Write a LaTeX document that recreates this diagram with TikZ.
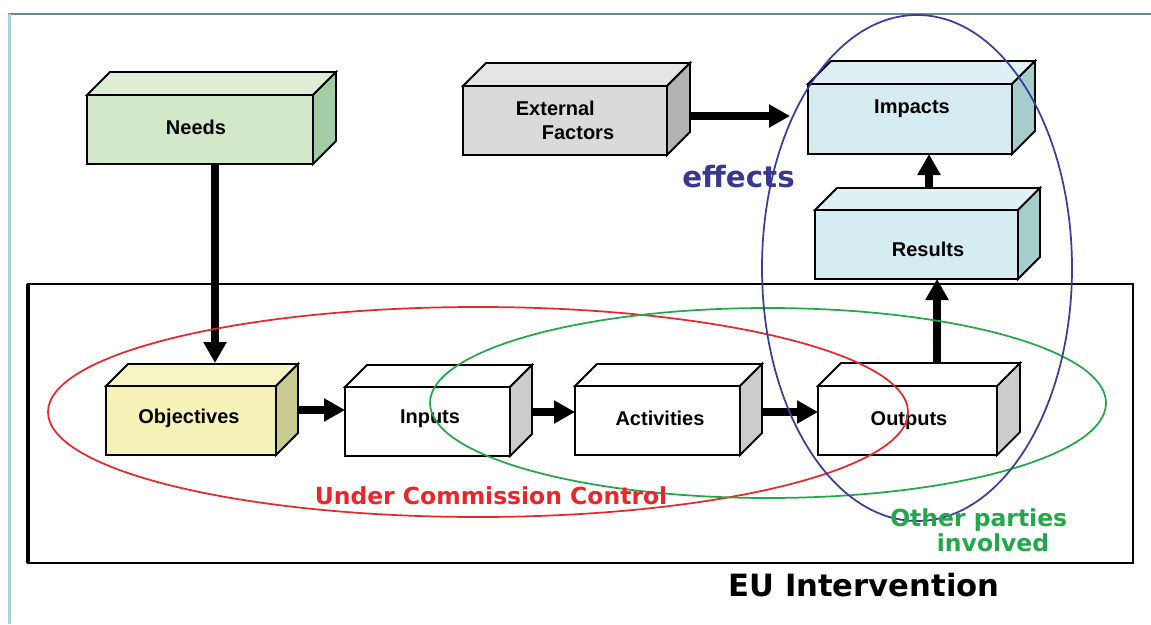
\documentclass[tikz,border=0pt]{standalone}
\usepackage{fontspec}
\setmainfont{Liberation Sans}
\newfontfamily\vfont{DejaVu Sans}
\usetikzlibrary{arrows.meta,calc}
\definecolor{needsF}{HTML}{D3E8C8}
\definecolor{needsT}{HTML}{DEEED6}
\definecolor{needsS}{HTML}{A3CCA5}
\definecolor{extF}{HTML}{DADADA}
\definecolor{extT}{HTML}{E6E6E6}
\definecolor{extS}{HTML}{B3B3B3}
\definecolor{impF}{HTML}{D4ECF2}
\definecolor{impT}{HTML}{DDF1F6}
\definecolor{impS}{HTML}{A4CDCC}
\definecolor{objF}{HTML}{F7F3B8}
\definecolor{objT}{HTML}{F8F5C4}
\definecolor{objS}{HTML}{CACB91}
\definecolor{whS}{HTML}{CCCCCC}
\definecolor{redE}{HTML}{E8262B}
\definecolor{greenE}{HTML}{22A84B}
\definecolor{blueE}{HTML}{3B3B99}
\definecolor{blueT}{HTML}{383893}
\definecolor{frameTop}{HTML}{6D8B8B}
\definecolor{frameLeft}{HTML}{A8D3D8}
\newcommand\faces[4]{%
  \draw[edge, fill=#3] (#1.north west) -- ++(#2,-#2) -- ($(#1.north east)+(#2,-#2)$) -- (#1.north east) -- cycle;
  \draw[edge, fill=#4] (#1.north east) -- ++(#2,-#2) -- ($(#1.south east)+(#2,-#2)$) -- (#1.south east) -- cycle;}
\begin{document}
\begin{tikzpicture}[x=0.75pt,y=-0.75pt,
  edge/.style={draw=black, line width=1.35pt, line join=miter},
  face/.style 2 args={edge, outer sep=0pt, inner sep=0pt, minimum width=#1*0.75pt, minimum height=#2*0.75pt},
  lbl/.style={font=\bfseries\fontsize{15}{17.5}\selectfont, inner sep=0pt, align=left},
  arr/.style={line width=6pt, -{Triangle[length=15.75pt, width=16.5pt]}},
  big/.style={font=\vfont\bfseries\fontsize{17.6}{19}\selectfont, inner sep=0pt, align=left}]
\useasboundingbox (0,0) rectangle (1151,624);
% outer frame lines
\draw[frameTop, line width=2.2pt] (8,14) -- (1151,14);
\draw[frameLeft, line width=2.2pt] (9.5,14) -- (9.5,624);
% EU intervention frame
\node[draw=black, line width=2.2pt, outer sep=0pt, inner sep=0pt, minimum width=1105*0.75pt, minimum height=279*0.75pt] (frame) at (580.5,423.5) {};
\draw[black, line width=3.2pt] (frame.north west) -- (frame.south west);
% boxes (front faces)
\node[face={226}{69}, fill=needsF] (needs) at (200,129.5) {};
\node[face={204}{69}, fill=extF] (ext) at (565,120.5) {};
\node[face={204}{70}, fill=impF] (impacts) at (910,119) {};
\node[face={203}{69}, fill=impF] (results) at (916.5,244.5) {};
\node[face={170}{69}, fill=objF] (obj) at (191,420.5) {};
\node[face={165}{69}, fill=white] (inputs) at (427.5,421.5) {};
\node[face={165}{69}, fill=white] (act) at (657.5,420.5) {};
\node[face={179}{69}, fill=white] (out) at (907.5,420.5) {};
\faces{needs}{23}{needsT}{needsS}
\faces{ext}{23}{extT}{extS}
\faces{impacts}{23}{impT}{impS}
\faces{results}{22}{impT}{impS}
\faces{obj}{22}{objT}{objS}
\faces{inputs}{22}{white}{whS}
\faces{act}{22}{white}{whS}
\faces{out}{23}{white}{whS}
% labels
\node[lbl] (needsT) at ($(needs.center)+(-4,-2.5)$) {Needs};
\node[lbl] (extT) at ($(ext.center)+(0,0)$) {External\\\hspace*{19.5pt}Factors};
\node[lbl] (impT) at ($(impacts.center)+(2,-10)$) {Impacts};
\node[lbl] (resT) at ($(results.center)+(11.5,4.5)$) {Results};
\node[lbl] (objT) at ($(obj.center)+(-2,-2.5)$) {Objectives};
\node[lbl] (inT) at ($(inputs.center)+(2.5,-2.5)$) {Inputs};
\node[lbl] (actT) at ($(act.center)+(2.5,-2.5)$) {Activities};
\node[lbl] (outT) at ($(out.center)+(1.5,0)$) {Outputs};
% arrows
\coordinate (a1) at ($(needs.south)+(15,0)$);
\coordinate (a1e) at ($(obj.north west)+(109,-23)$);
\draw[arr] (a1) -- (a1e);
\coordinate (a2) at ($(obj.east)+(22,-10.5)$);
\draw[arr] (a2) -- (a2 -| inputs.west);
\coordinate (a3) at ($(inputs.east)+(22,-9.5)$);
\draw[arr] (a3) -- (a3 -| act.west);
\coordinate (a4) at ($(act.east)+(23,-8.5)$);
\draw[arr] (a4) -- (a4 -| out.west);
\coordinate (a5) at ($(out.north)+(29.5,-23)$);
\draw[arr] (a5) -- (a5 |- results.south);
\coordinate (a6) at ($(results.north)+(12.5,-23)$);
\draw[arr] (a6) -- (a6 |- impacts.south);
\coordinate (a7) at ($(ext.east)+(23,-4.5)$);
\draw[arr, shorten >=13.5pt] (a7) -- (a7 -| impacts.west);
% ellipses
\draw[redE, line width=1.3pt] (478,412) ellipse [x radius=322.5pt, y radius=78.75pt];
\draw[greenE, line width=1.3pt] (768,403) ellipse [x radius=253.5pt, y radius=71.25pt];
\draw[blueE, line width=1.3pt] (917,268) ellipse [x radius=116.25pt, y radius=189.75pt];
% big texts
\node[big, text=blueT, font=\vfont\bfseries\fontsize{22}{24}\selectfont] (effects) at (738.5,177) {effects};
\node[big, text=redE] (ucc) at (491,496) {Under Commission Control};
\node[big, text=greenE, anchor=north west] (other) at (890,508) {Other parties\\\hspace*{35pt}involved};
\node[big, text=black, font=\vfont\bfseries\fontsize{23}{25}\selectfont] (eu) at (864,585) {EU Intervention};
\end{tikzpicture}
\end{document}
